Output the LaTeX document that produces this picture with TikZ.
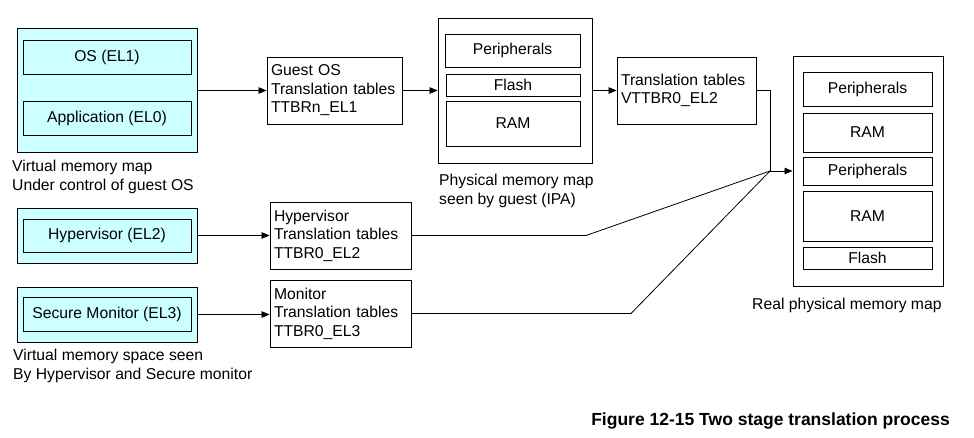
\documentclass[tikz,border=0pt]{standalone}
\usepackage{fontspec}
\setmainfont{Liberation Sans}
\usetikzlibrary{arrows.meta}
\definecolor{lcyan}{RGB}{204,255,255}
\begin{document}
\begin{tikzpicture}[x=1pt,y=-1pt,
  every node/.style={font=\fontsize{15.7}{18.5}\selectfont},
  wh/.style n args={2}{minimum width=#1pt, minimum height=#2pt},
  bx/.style={draw, line width=0.9pt, inner sep=0pt, align=center},
  cy/.style={draw, line width=0.9pt, fill=lcyan, inner sep=0pt},
  tt/.style={draw, line width=0.9pt, inner xsep=4pt, inner ysep=0pt, align=left, text width=#1pt},
  lbl/.style={inner sep=0pt, align=left, anchor=west},
  arr/.style={-{Triangle[length=8pt,width=6.5pt]}, line width=0.8pt},
  ln/.style={line width=0.8pt}]
\useasboundingbox (0,0) rectangle (974,438);

% left column
\node[cy, wh={180}{124}] (cyan1) at (107,90.5) {};
\node[bx, wh={168}{34}] (os) at (107,57) {OS (EL1)};
\node[bx, wh={168}{34}] (app) at (107,118) {Application (EL0)};
\node[lbl] (lab1) at (12,177) {Virtual memory map\\Under control of guest OS};

\node[cy, wh={180}{55}] (cyan2) at (107,235.5) {};
\node[bx, wh={168}{33}] (hyp) at (107,235.5) {Hypervisor (EL2)};
\node[cy, wh={180}{55}] (cyan3) at (107,314.5) {};
\node[bx, wh={168}{34}] (sec) at (107,314.5) {Secure Monitor (EL3)};
\node[lbl] (lab2) at (13,366) {Virtual memory space seen\\By Hypervisor and Secure monitor};

% translation tables
\node[tt=127, minimum height=67pt] (guest) at (334.5,90.5) {Guest OS\\Translation tables\\TTBRn\_EL1};
\node[tt=133, minimum height=67pt] (hyptt) at (340.5,235.5) {Hypervisor\\Translation tables\\TTBR0\_EL2};
\node[tt=133, minimum height=67pt] (montt) at (340.5,313.5) {Monitor\\Translation tables\\TTBR0\_EL3};
\node[tt=131, minimum height=67pt] (vttbr) at (686.5,90.5) {Translation tables\\VTTBR0\_EL2};

% IPA map
\node[bx, wh={154}{145}] (phys) at (515,90.5) {};
\node[bx, wh={135}{33}] (pper) at (512.5,50.5) {Peripherals};
\node[bx, wh={134}{22}] (pflash) at (513,85) {Flash};
\node[bx, wh={134}{45}] (pram) at (513,123.5) {RAM};
\node[lbl] (lab3) at (439,191) {Physical memory map\\seen by guest (IPA)};

% real physical map
\node[bx, wh={150}{230}] (real) at (868,171) {};
\node[bx, wh={129}{34}] (r1) at (867.5,89) {Peripherals};
\node[bx, wh={129}{39}] (r2) at (867.5,132.5) {RAM};
\node[bx, wh={129}{28}] (r3) at (867.5,171) {Peripherals};
\node[bx, wh={129}{50}] (r4) at (867.5,216) {RAM};
\node[bx, wh={129}{22}] (r5) at (867.5,258) {Flash};
\node[lbl] (lab4) at (752,305.5) {Real physical memory map};

\node[inner sep=0pt, anchor=east, font=\fontsize{17.5}{20}\selectfont\bfseries] (cap) at (950,421) {Figure 12-15 Two stage translation process};

% connectors
\coordinate (j) at (770,171);
\coordinate (h1) at (586,235.5);
\coordinate (m1) at (631,313.5);
\draw[arr] (cyan1.east) -- (guest.west);
\draw[arr] (guest.east) -- (phys.west);
\draw[arr] (phys.east) -- (vttbr.west);
\draw[arr] (vttbr.east) -| (j) -- (real.west);
\draw[arr] (cyan2.east) -- (hyptt.west);
\draw[arr] (cyan3.east) -- (cyan3.east -| montt.west);
\draw[ln] (hyptt.east) -- (h1) -- (j);
\draw[ln] (montt.east) -- (m1) -- (j);
\end{tikzpicture}
\end{document}
